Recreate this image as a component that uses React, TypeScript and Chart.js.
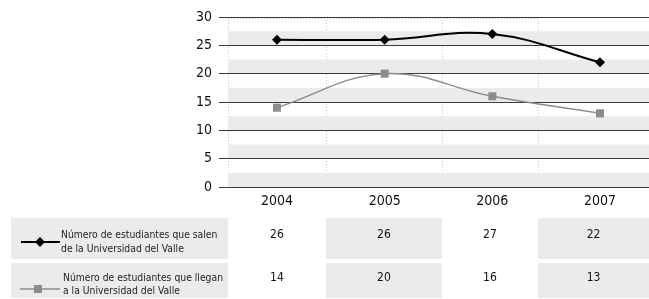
import React, { useEffect, useRef } from "react";
import { Chart, registerables } from "chart.js";

Chart.register(...registerables);

// ---- data ----
const years = ["2004", "2005", "2006", "2007"];
const salen = [26, 26, 27, 22];
const llegan = [14, 20, 16, 13];
const salenLabel = ["Número de estudiantes que salen", "de la Universidad del Valle"];
const lleganLabel = ["Número de estudiantes que llegan", "a la Universidad del Valle"];
const yMin = 0;
const yMax = 30;
const yStep = 5;

// ---- styling ----
const FONT = "'DejaVu Sans Condensed', 'DejaVu Sans', sans-serif";
const BAND = "#ebebeb";
const GRID = "#3a3a3a";
const GRAY = "#8c8c8c";
// column edges of the table (in x-axis units)
const COL_EDGES = [-0.455, 0.455, 1.532, 2.424, 3.455];

const decor = {
  id: "decor",
  beforeDraw(chart: any) {
    const { ctx, chartArea: a, scales } = chart;
    const x = scales.x;
    const y = scales.y;
    ctx.save();
    ctx.strokeStyle = "#c4c4c4";
    ctx.lineWidth = 1;
    ctx.setLineDash([1, 2]);
    for (let i = 0; i < 4; i++) {
      const px = Math.round(x.getPixelForValue(COL_EDGES[i])) + 0.5;
      ctx.beginPath();
      ctx.moveTo(px, a.top);
      ctx.lineTo(px, a.bottom);
      ctx.stroke();
    }
    ctx.beginPath();
    ctx.moveTo(a.left, Math.round(a.top) + 1.5);
    ctx.lineTo(x.getPixelForValue(COL_EDGES[3]), Math.round(a.top) + 1.5);
    ctx.stroke();
    ctx.setLineDash([]);
    ctx.fillStyle = BAND;
    for (let v = yMin; v < yMax; v += yStep) {
      const t = y.getPixelForValue(v + yStep / 2);
      const b = y.getPixelForValue(v);
      ctx.fillRect(a.left, t, a.right - a.left, b - t);
    }
    ctx.restore();
  },
  afterDraw(chart: any) {
    const { ctx, chartArea: a, scales } = chart;
    const x = scales.x;
    const edges = COL_EDGES.map((e) => x.getPixelForValue(e));
    const rows = [
      { top: a.bottom + 31, h: 41, values: salen, label: salenLabel, textY: [a.bottom + 48, a.bottom + 62], markY: a.bottom + 55, textX: 61, numY: a.bottom + 48 },
      { top: a.bottom + 76, h: 35, values: llegan, label: lleganLabel, textY: [a.bottom + 91, a.bottom + 104], markY: a.bottom + 102, textX: 63, numY: a.bottom + 91 },
    ];
    ctx.save();
    rows.forEach((r, ri) => {
      // legend cell
      ctx.fillStyle = BAND;
      ctx.fillRect(11, r.top, edges[0] - 11, r.h);
      for (let c = 0; c < 4; c++) {
        if (c % 2 === 1) {
          ctx.fillStyle = BAND;
          ctx.fillRect(edges[c], r.top, edges[c + 1] - edges[c], r.h);
        }
      }
      // legend marker
      if (ri === 0) {
        ctx.strokeStyle = "#000";
        ctx.lineWidth = 2;
        ctx.beginPath();
        ctx.moveTo(21, r.markY);
        ctx.lineTo(60, r.markY);
        ctx.stroke();
        ctx.fillStyle = "#000";
        ctx.beginPath();
        ctx.moveTo(40, r.markY - 5);
        ctx.lineTo(45, r.markY);
        ctx.lineTo(40, r.markY + 5);
        ctx.lineTo(35, r.markY);
        ctx.closePath();
        ctx.fill();
      } else {
        ctx.strokeStyle = GRAY;
        ctx.lineWidth = 1.5;
        ctx.beginPath();
        ctx.moveTo(20, r.markY);
        ctx.lineTo(60, r.markY);
        ctx.stroke();
        ctx.fillStyle = GRAY;
        ctx.fillRect(34, r.markY - 4, 8, 8);
      }
      // label text
      ctx.fillStyle = "#222";
      ctx.font = `10.3px ${FONT}`;
      ctx.textAlign = "left";
      ctx.textBaseline = "middle";
      r.label.forEach((line, li) => ctx.fillText(line, r.textX, r.textY[li]));
      // values
      ctx.font = `12px ${FONT}`;
      ctx.textAlign = "center";
      ctx.fillStyle = "#111";
      r.values.forEach((v, c) => {
        ctx.fillText(String(v), (edges[c] + edges[c + 1]) / 2, r.numY);
      });
    });
    ctx.restore();
  },
};

export default function App() {
  const ref = useRef<HTMLCanvasElement | null>(null);
  useEffect(() => {
    if (!ref.current) return;
    const chart = new Chart(ref.current, {
      type: "line",
      data: {
        datasets: [
          {
            label: salenLabel.join(" "),
            data: salen.map((v, i) => ({ x: i, y: v })),
            borderColor: "#000",
            backgroundColor: "#000",
            borderWidth: 2,
            pointStyle: "rectRot",
            pointRadius: 5,
            pointBorderWidth: 0,
            tension: 0.4,
          },
          {
            label: lleganLabel.join(" "),
            data: llegan.map((v, i) => ({ x: i, y: v })),
            borderColor: GRAY,
            backgroundColor: GRAY,
            borderWidth: 1.5,
            pointStyle: "rect",
            pointRadius: 5.7,
            pointBorderWidth: 0,
            tension: 0.4,
          },
        ],
      },
      options: {
        animation: false,
        responsive: false,
        events: [],
        layout: { autoPadding: false, padding: { top: 17, left: 0, right: 0, bottom: 0 } },
        plugins: { legend: { display: false }, tooltip: { enabled: false } },
        scales: {
          x: {
            type: "linear",
            min: COL_EDGES[0],
            max: COL_EDGES[4],
            afterBuildTicks: (s: any) => {
              s.ticks = years.map((_, i) => ({ value: i }));
            },
            afterFit: (s: any) => {
              s.height = 112;
              s.paddingLeft = 0;
              s.paddingRight = 0;
            },
            grid: { display: false, drawTicks: false },
            border: { display: false },
            ticks: {
              autoSkip: false,
              maxRotation: 0,
              padding: 6,
              color: "#111",
              font: { family: FONT, size: 14 },
              callback: (v: any) => years[Math.round(v)] ?? "",
            },
          },
          y: {
            min: yMin,
            max: yMax,
            afterFit: (s: any) => {
              s.width = 228;
            },
            grid: { color: GRID, lineWidth: 1, tickLength: 9, drawTicks: true },
            border: { display: false },
            ticks: {
              stepSize: yStep,
              padding: 7,
              color: "#111",
              font: { family: FONT, size: 14 },
            },
          },
        },
      },
      plugins: [decor],
    });
    return () => chart.destroy();
  }, []);
  return (
    <div style={{ position: "fixed", left: 0, top: 0, width: 649, height: 299, background: "#fff" }}>
      <canvas ref={ref} width={649} height={299} style={{ width: 649, height: 299, display: "block" }} />
    </div>
  );
}
